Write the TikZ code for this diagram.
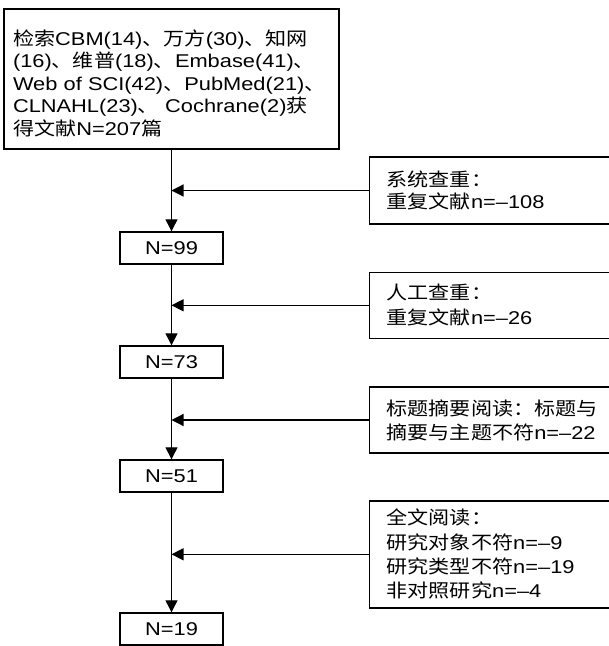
\documentclass[tikz,border=0pt]{standalone}
\usepackage{fontspec}
\setmainfont{Liberation Sans}[FakeStretch=1.18]
\newfontfamily\cjkf{Noto Sans CJK SC}[FakeStretch=1.14]
\newcommand\zh[1]{{\cjkf #1}}
\usetikzlibrary{arrows.meta}
\tikzset{
  box/.style={draw, line width=1.4pt, inner ysep=0pt, align=left},
  numbox/.style={box, minimum width=103pt, minimum height=32pt, inner xsep=0pt, align=center},
  sidebox/.style={box, anchor=west, inner xsep=17pt, text width=230pt},
  conn/.style={line width=1.2pt, -{Triangle[length=12pt,width=12pt]}},
}
\begin{document}
\begin{tikzpicture}[x=1pt, y=-1pt, font=\fontsize{18.5}{22}\selectfont]
\useasboundingbox (0,0) rectangle (609,646);
\clip (0,0) rectangle (609,646);
\fill[white] (0,0) rectangle (609,646);

\node[box, minimum width=335pt, minimum height=140pt, inner xsep=9pt, text width=317pt, font=\fontsize{18.5}{22.5}\selectfont] (top) at (171.5,79)
 {\rule{0pt}{24pt}\zh{检索}CBM(14)\zh{、万方}(30)\zh{、知网}\\
  (16)\zh{、维普}(18)\zh{、}Embase(41)\zh{、}\\
  Web of SCI(42)\zh{、}PubMed(21)\zh{、}\\
  CLNAHL(23)\zh{、} Cochrane(2)\zh{获}\\
  \zh{得文献}N=207\zh{篇}};

\node[numbox] (n99) at (171.5,248) {N=99};
\node[numbox] (n73) at (171.5,362) {N=73};
\node[numbox] (n51) at (171.5,476) {N=51};
\node[numbox] (n19) at (171.5,629) {N=19};

\node[sidebox, minimum height=67pt, font=\fontsize{18.5}{21.6}\selectfont] (r1) at (369,190.5)
 {\zh{系统查重：}\\\zh{重复文献}n=\textendash108};
\node[sidebox, minimum height=66pt, font=\fontsize{18.5}{25}\selectfont] (r2) at (369,305.3)
 {\zh{人工查重：}\\\zh{重复文献}n=\textendash26};
\node[sidebox, minimum height=66pt, font=\fontsize{18.5}{24}\selectfont] (r3) at (369,420)
 {\zh{标题摘要阅读：标题与}\\\zh{摘要与主题不符}n=\textendash22};
\node[sidebox, minimum height=107pt, font=\fontsize{18.5}{24.4}\selectfont] (r4) at (369,554.3)
 {\zh{全文阅读：}\\\zh{研究对象不符}n=\textendash9\\\zh{研究类型不符}n=\textendash19\\\zh{非对照研究}n=\textendash4};

\draw[conn] (top.south) -- (n99.north);
\draw[conn] (n99.south) -- (n73.north);
\draw[conn] (n73.south) -- (n51.north);
\draw[conn] (n51.south) -- (n19.north);

\draw[conn] (r1.west) -- (r1.west -| top.south);
\draw[conn] (r2.west) -- (r2.west -| top.south);
\draw[conn] (r3.west) -- (r3.west -| top.south);
\draw[conn] (r4.west) -- (r4.west -| top.south);
\end{tikzpicture}
\end{document}
